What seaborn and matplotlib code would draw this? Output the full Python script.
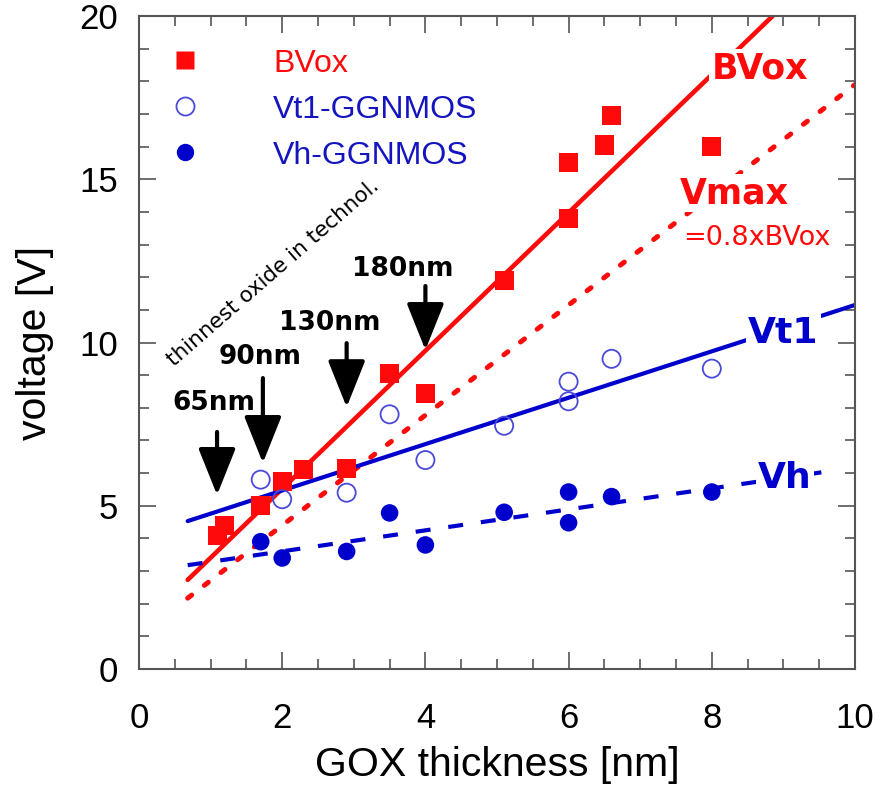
import matplotlib
matplotlib.use("Agg")
import matplotlib.pyplot as plt
from matplotlib.lines import Line2D
import seaborn as sns
import numpy as np

# ---- data ----
bvox_x = [1.1, 1.2, 1.7, 2.0, 2.3, 2.9, 3.5, 4.0, 5.1, 6.0, 6.0, 6.5, 6.6, 8.0]
bvox_y = [4.1, 4.4, 5.0, 5.75, 6.1, 6.15, 9.05, 8.45, 11.9, 13.8, 15.5, 16.05, 16.95, 16.0]

vt1_x = [1.7, 2.0, 2.9, 3.5, 4.0, 5.1, 6.0, 6.0, 6.6, 8.0]
vt1_y = [5.8, 5.2, 5.4, 7.8, 6.4, 7.45, 8.8, 8.2, 9.5, 9.2]

vh_x = [1.7, 2.0, 2.9, 3.5, 4.0, 5.1, 6.0, 6.0, 6.6, 8.0]
vh_y = [3.9, 3.4, 3.6, 4.78, 3.8, 4.8, 5.42, 4.48, 5.28, 5.42]

# fitted trend lines (end points)
bvox_fit_x = [0.68, 8.85]
bvox_fit_y = [2.73, 20.0]
vmax_fit_x = [0.68, 10.0]
vmax_fit_y = [2.17, 17.9]
vt1_fit_x = [0.68, 10.0]
vt1_fit_y = [4.53, 11.15]
vh_fit_x = [0.68, 9.77]
vh_fit_y = [3.18, 6.1]

# technology node arrows: x, tail y, tip y, label
node_labels = ["65nm", "90nm", "130nm", "180nm"]
node_x = [1.09, 1.73, 2.9, 4.0]
node_tail = [7.26, 8.91, 9.98, 11.73]
node_tip = [5.33, 6.31, 8.02, 9.77]
node_label_x = [1.04, 1.69, 2.67, 3.69]
node_label_y = [8.15, 9.55, 10.6, 12.25]

x_ticks = [0, 2, 4, 6, 8, 10]
y_ticks = [0, 5, 10, 15, 20]

RED = "#ff0a0a"
BLUE = "#0000cc"
LBLUE = "#4a4ad8"
LEGBLUE = "#1515c0"
ANN = ["DejaVu Sans"]

sns.set_theme(style="ticks")
plt.rcParams["font.family"] = ["Liberation Sans", "DejaVu Sans"]
plt.rcParams["text.color"] = "black"

fig = plt.figure(figsize=(8.81, 7.90), dpi=100)
ax = fig.add_axes([139 / 881, 1 - 669 / 790, 716 / 881, 653 / 790])

# trend lines
sns.lineplot(x=bvox_fit_x, y=bvox_fit_y, ax=ax, color=RED, lw=3.3, zorder=2)
sns.lineplot(x=vmax_fit_x, y=vmax_fit_y, ax=ax, color=RED, lw=3.6, zorder=2,
             linestyle=(0, (1.0, 3.2)), dash_capstyle="round")
sns.lineplot(x=vt1_fit_x, y=vt1_fit_y, ax=ax, color=BLUE, lw=3.0, zorder=2)
sns.lineplot(x=vh_fit_x, y=vh_fit_y, ax=ax, color=BLUE, lw=3.0, zorder=2,
             linestyle=(0, (3.6, 4.3)))

# markers
sns.scatterplot(x=bvox_x, y=bvox_y, ax=ax, marker="s", s=190, color=RED,
                edgecolor="none", zorder=4)
ax.scatter(vt1_x, vt1_y, marker="o", s=170, facecolors="none",
           edgecolors=LBLUE, linewidths=1.3, zorder=4)
sns.scatterplot(x=vh_x, y=vh_y, ax=ax, marker="o", s=160, color=BLUE,
                edgecolor="none", zorder=4)

# arrows
for lab, x, t0, t1, lx, ly in zip(node_labels, node_x, node_tail, node_tip,
                                   node_label_x, node_label_y):
    ax.annotate("", xy=(x, t1), xytext=(x, t0),
                arrowprops=dict(arrowstyle="-|>,head_length=1.45,head_width=0.58",
                                mutation_scale=20, color="black", lw=3.0,
                                shrinkA=0, shrinkB=0), zorder=5)
    ax.text(lx, ly, lab, fontsize=19, fontweight="bold", ha="center",
            va="center", color="black", zorder=6, family=ANN)

ax.text(1.87, 12.13, "thinnest oxide in technol.", rotation=41,
        rotation_mode="anchor", ha="center", va="center", fontsize=15.5,
        color="black", family=ANN)

# curve labels (white box hides the line beneath)
bb = dict(facecolor="white", edgecolor="none", pad=1.5)
ax.text(8.67, 18.4, "BVox", fontsize=25, fontweight="bold", color=RED,
        ha="center", va="center", bbox=bb, zorder=3, family=ANN)
ax.text(8.32, 14.57, "Vmax", fontsize=25, fontweight="bold", color=RED,
        ha="center", va="center", bbox=bb, zorder=3, family=ANN)
ax.text(8.63, 13.2, "=0.8xBVox", fontsize=19.5, color=RED,
        ha="center", va="center", family=ANN,
        bbox=dict(facecolor="white", edgecolor="none", pad=0.5), zorder=3)
ax.text(9.0, 10.3, "Vt1", fontsize=26, fontweight="bold", color=BLUE,
        ha="center", va="center", bbox=bb, zorder=3, family=ANN)
ax.text(9.02, 5.85, "Vh", fontsize=26, fontweight="bold", color=BLUE,
        ha="center", va="center", bbox=bb, zorder=3, family=ANN)

# legend
handles = [
    Line2D([], [], ls="none", marker="s", ms=13.5, color=RED, mec="none"),
    Line2D([], [], ls="none", marker="o", ms=13, mfc="none", mec=LBLUE, mew=1.3),
    Line2D([], [], ls="none", marker="o", ms=12.5, color=BLUE, mec="none"),
]
leg = ax.legend(handles, ["BVox", "Vt1-GGNMOS", "Vh-GGNMOS"], loc="upper left",
                bbox_to_anchor=(0.0419, 0.950), frameon=False, fontsize=23,
                handlelength=1.0, handletextpad=2.26, labelspacing=0.5,
                borderaxespad=0, borderpad=0)
for t, c in zip(leg.get_texts(), [RED, LEGBLUE, LEGBLUE]):
    t.set_color(c)

# axes styling
ax.set_xlim(0, 10)
ax.set_ylim(0, 20)
ax.set_xticks(x_ticks)
ax.set_yticks(y_ticks)
ax.set_xticks(np.arange(0, 10.01, 0.5), minor=True)
ax.set_yticks(np.arange(0, 20.01, 1), minor=True)
ax.tick_params(which="both", direction="in", top=True, right=True,
               color="#555555", width=1.2, labelsize=25, labelcolor="black")
ax.tick_params(axis="x", which="both", pad=24)
ax.tick_params(axis="y", which="both", pad=15)
ax.tick_params(which="major", length=12)
ax.tick_params(which="minor", length=7)
for sp in ax.spines.values():
    sp.set_color("#555555")
    sp.set_linewidth(1.5)
ax.set_xlabel("GOX thickness [nm]", fontsize=29.5, labelpad=8, color="black")
ax.set_ylabel("voltage [V]", fontsize=29.5, color="black")
ax.yaxis.set_label_coords(-0.119, 0.5)
ax.set_facecolor("white")
fig.patch.set_facecolor("white")

fig.savefig("out.png", dpi=100)
